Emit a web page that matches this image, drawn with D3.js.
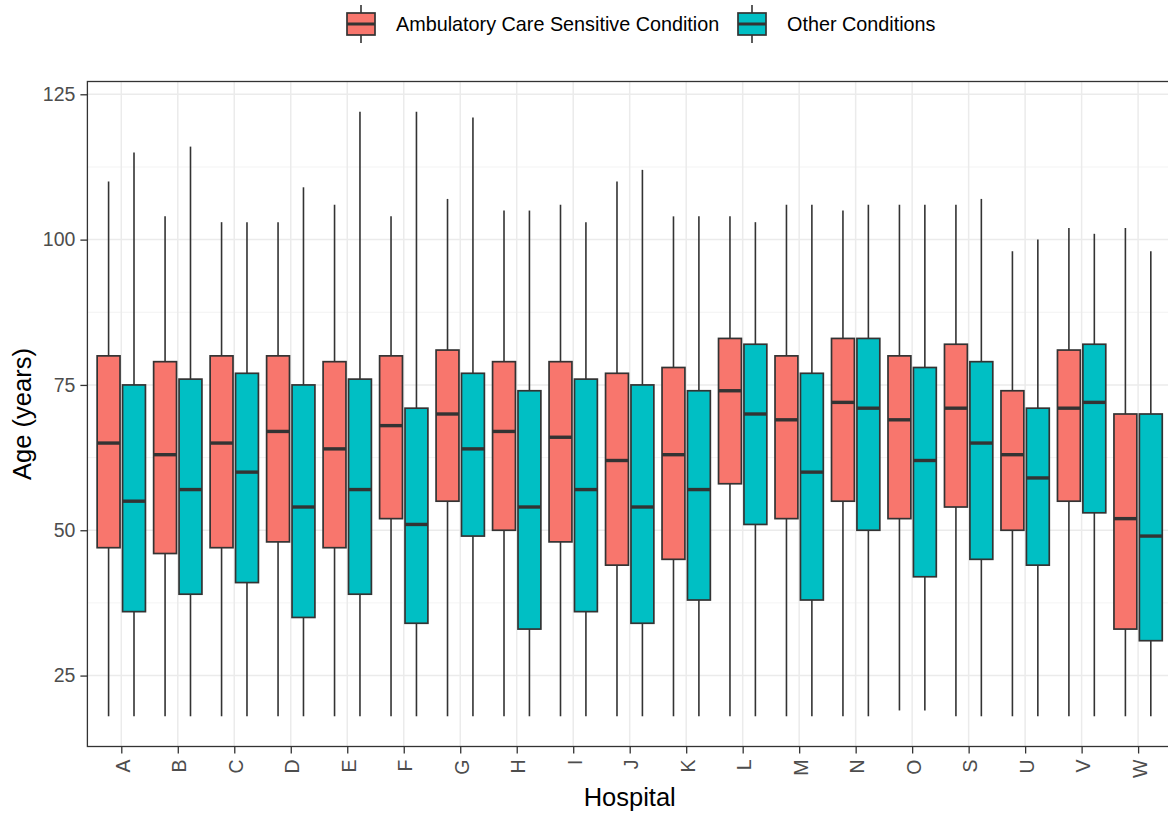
<!DOCTYPE html>
<html>
<head>
<meta charset="utf-8">
<script src="https://cdn.jsdelivr.net/npm/d3@7"></script>
<style>
  html, body { margin: 0; padding: 0; background: #fff; }
  svg { display: block; font-family: "Liberation Sans", Arial, sans-serif; }
</style>
</head>
<body>
<svg id="chart" width="1168" height="817"></svg>
<script>
// ---- Data ----
const hospitals = ["A","B","C","D","E","F","G","H","I","J","K","L","M","N","O","S","U","V","W"];
const seriesNames = ["Ambulatory Care Sensitive Condition", "Other Conditions"];
const seriesColors = ["#F8766D", "#00BFC4"];

// Ambulatory Care Sensitive Condition
const acscLower  = [18,18,18,18,18,18,18,18,18,18,18,18,18,18,19,18,18,18,18];
const acscQ1     = [47,46,47,48,47,52,55,50,48,44,45,58,52,55,52,54,50,55,33];
const acscMedian = [65,63,65,67,64,68,70,67,66,62,63,74,69,72,69,71,63,71,52];
const acscQ3     = [80,79,80,80,79,80,81,79,79,77,78,83,80,83,80,82,74,81,70];
const acscUpper  = [110,104,103,103,106,104,107,105,106,110,104,104,106,105,106,106,98,102,102];

// Other Conditions
const otherLower  = [18,18,18,18,18,18,18,18,18,18,18,18,18,18,19,18,18,18,18];
const otherQ1     = [36,39,41,35,39,34,49,33,36,34,38,51,38,50,42,45,44,53,31];
const otherMedian = [55,57,60,54,57,51,64,54,57,54,57,70,60,71,62,65,59,72,49];
const otherQ3     = [75,76,77,75,76,71,77,74,76,75,74,82,77,83,78,79,71,82,70];
const otherUpper  = [115,116,103,109,122,122,121,105,103,112,104,103,106,106,106,107,100,101,98];

const yTicks = [25, 50, 75, 100, 125];
const yMinor = [37.5, 62.5, 87.5, 112.5];

// ---- Build records ----
const series = [
  {name: seriesNames[0], color: seriesColors[0], lower: acscLower, q1: acscQ1, med: acscMedian, q3: acscQ3, upper: acscUpper},
  {name: seriesNames[1], color: seriesColors[1], lower: otherLower, q1: otherQ1, med: otherMedian, q3: otherQ3, upper: otherUpper}
];
const boxes = [];
series.forEach((s, si) => {
  hospitals.forEach((h, i) => {
    boxes.push({hospital: h, si, color: s.color, lower: s.lower[i], q1: s.q1[i], med: s.med[i], q3: s.q3[i], upper: s.upper[i]});
  });
});

// ---- Layout ----
const svg = d3.select("#chart");
const panel = {left: 87.4, right: 1172, top: 81.5, bottom: 746.5};

const x = d3.scalePoint().domain(hospitals).range([panel.left, panel.right]).padding(0.6);
const step = x.step();
const dodgeW = step * 0.9;
const boxW = dodgeW / 2 * 0.9;
const offset = [-dodgeW / 4, dodgeW / 4];

const y = d3.scaleLinear().domain([12.8, 127.2]).range([panel.bottom, panel.top]);

const gridG = svg.append("g");
gridG.selectAll("line.minor").data(yMinor).join("line")
  .attr("x1", panel.left).attr("x2", panel.right)
  .attr("y1", d => y(d)).attr("y2", d => y(d))
  .attr("stroke", "#F2F2F2").attr("stroke-width", 0.9);
gridG.selectAll("line.majory").data(yTicks).join("line")
  .attr("x1", panel.left).attr("x2", panel.right)
  .attr("y1", d => y(d)).attr("y2", d => y(d))
  .attr("stroke", "#EBEBEB").attr("stroke-width", 1.5);
gridG.selectAll("line.majorx").data(hospitals).join("line")
  .attr("y1", panel.top).attr("y2", panel.bottom)
  .attr("x1", d => x(d)).attr("x2", d => x(d))
  .attr("stroke", "#EBEBEB").attr("stroke-width", 1.5);

// ---- Boxes ----
const boxG = svg.append("g");
const stroke = "#333333";
const bg = boxG.selectAll("g.box").data(boxes).join("g")
  .attr("transform", d => `translate(${x(d.hospital) + offset[d.si]},0)`);

bg.append("line")
  .attr("x1", 0).attr("x2", 0)
  .attr("y1", d => y(d.q3)).attr("y2", d => y(d.upper))
  .attr("stroke", stroke).attr("stroke-width", 1.6);
bg.append("line")
  .attr("x1", 0).attr("x2", 0)
  .attr("y1", d => y(d.q1)).attr("y2", d => y(d.lower))
  .attr("stroke", stroke).attr("stroke-width", 1.6);
bg.append("rect")
  .attr("x", -boxW / 2).attr("width", boxW)
  .attr("y", d => y(d.q3)).attr("height", d => y(d.q1) - y(d.q3))
  .attr("fill", d => d.color).attr("stroke", stroke).attr("stroke-width", 1.7);
bg.append("line")
  .attr("x1", -boxW / 2).attr("x2", boxW / 2)
  .attr("y1", d => y(d.med)).attr("y2", d => y(d.med))
  .attr("stroke", stroke).attr("stroke-width", 3.4);

// ---- Panel border ----
svg.append("rect")
  .attr("x", panel.left).attr("y", panel.top)
  .attr("width", panel.right - panel.left).attr("height", panel.bottom - panel.top)
  .attr("fill", "none").attr("stroke", "#333333").attr("stroke-width", 1.3);

// ---- Axes ----
const yAxis = d3.axisLeft(y).tickValues(yTicks).tickSize(7).tickPadding(5);
const yg = svg.append("g").attr("transform", `translate(${panel.left},0)`).call(yAxis);
yg.select(".domain").remove();
yg.selectAll(".tick line").attr("stroke", "#333333").attr("stroke-width", 1.3);
yg.selectAll(".tick text").attr("fill", "#4D4D4D").attr("font-size", "19.5px")
  .attr("font-family", '"Liberation Sans", Arial, sans-serif');

const xAxis = d3.axisBottom(x).tickSize(7).tickPadding(5);
const xg = svg.append("g").attr("transform", `translate(0,${panel.bottom})`).call(xAxis);
xg.select(".domain").remove();
xg.selectAll(".tick line").attr("stroke", "#333333").attr("stroke-width", 1.3);
xg.selectAll(".tick text")
  .attr("fill", "#4D4D4D").attr("font-size", "19.5px")
  .attr("font-family", '"Liberation Sans", Arial, sans-serif')
  .attr("text-anchor", "end")
  .attr("dy", null)
  .attr("y", 0).attr("x", 0)
  .attr("transform", "translate(1,13) rotate(-90)")
  .attr("dominant-baseline", "central");

// Axis titles
svg.append("text")
  .attr("x", (panel.left + panel.right) / 2).attr("y", 806)
  .attr("text-anchor", "middle").attr("font-size", "25.5px").attr("fill", "#000")
  .text("Hospital");
svg.append("text")
  .attr("transform", `translate(31,${(panel.top + panel.bottom) / 2}) rotate(-90)`)
  .attr("text-anchor", "middle").attr("font-size", "25.5px").attr("fill", "#000")
  .text("Age (years)");

// ---- Legend ----
const legendX = [346, 737];
const legendCy = 24;
const lg = svg.append("g").selectAll("g").data(series).join("g")
  .attr("transform", (d, i) => `translate(${legendX[i]},${legendCy})`);
lg.append("line").attr("x1", 15).attr("x2", 15).attr("y1", -19).attr("y2", -11)
  .attr("stroke", stroke).attr("stroke-width", 1.6);
lg.append("line").attr("x1", 15).attr("x2", 15).attr("y1", 11).attr("y2", 19)
  .attr("stroke", stroke).attr("stroke-width", 1.6);
lg.append("rect").attr("x", 1).attr("y", -11).attr("width", 28).attr("height", 22)
  .attr("fill", d => d.color).attr("stroke", stroke).attr("stroke-width", 1.7);
lg.append("line").attr("x1", 1).attr("x2", 29).attr("y1", 0).attr("y2", 0)
  .attr("stroke", stroke).attr("stroke-width", 3);
lg.append("text").attr("x", 50).attr("y", 0).attr("dominant-baseline", "central")
  .attr("font-size", "19.8px").attr("fill", "#000")
  .text(d => d.name);
</script>
</body>
</html>
